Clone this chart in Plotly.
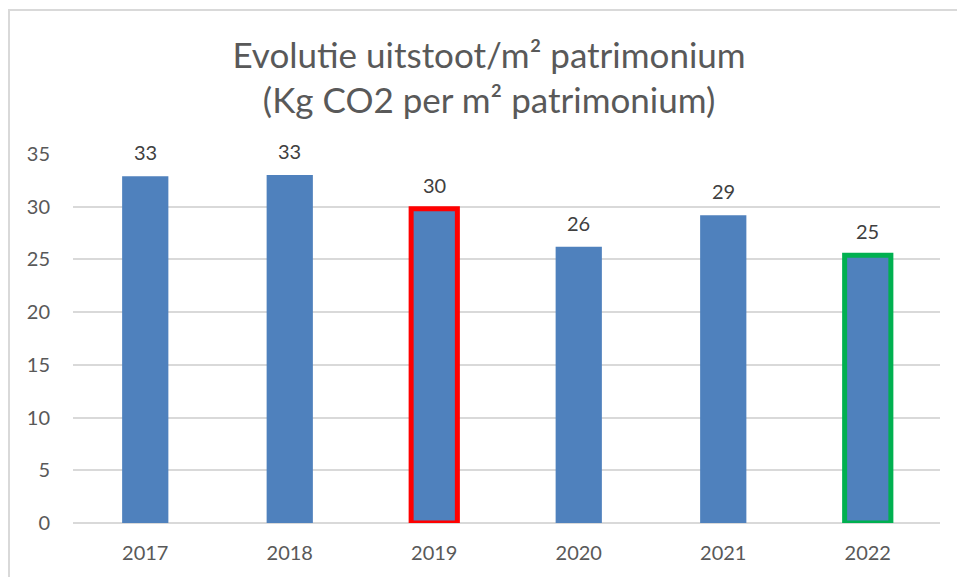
import plotly.graph_objs as go

# Data
years = ["2017", "2018", "2019", "2020", "2021", "2022"]
co2_per_m2 = [32.9, 33.0, 29.8, 26.2, 29.2, 25.4]
y_ticks = [0, 5, 10, 15, 20, 25, 30, 35]

# Outline colours for the highlighted years
highlight = {"2019": "#FF0000", "2022": "#00B050"}

FONT = "Lato"
GRID = "#D9D9D9"

fig = go.Figure()

fig.add_trace(go.Bar(
    x=years,
    y=co2_per_m2,
    marker=dict(
        color="#4F81BD",
        line=dict(
            color=[highlight.get(y, "rgba(0,0,0,0)") for y in years],
            width=[5 if y in highlight else 0 for y in years],
        ),
    ),
    showlegend=False,
    hoverinfo="x+y",
))

# Data labels above the bars (rounded like the original).
# numeric-looking strings are read as category indexes by annotations,
# so place them by index instead
for i, val in enumerate(co2_per_m2):
    fig.add_annotation(
        x=i, y=val, text=f"{val:.0f}",
        showarrow=False, yanchor="middle", yshift=24,
        font=dict(family=FONT, size=20, color="#404040"),
    )

# Light grey chart border
fig.add_shape(
    type="rect", xref="paper", yref="paper",
    x0=-0.0738, x1=1.2, y0=-0.3, y1=1.39,
    line=dict(color=GRID, width=2), layer="below",
)

fig.update_layout(
    width=957,
    height=577,
    title=dict(
        text="Evolutie uitstoot/m² patrimonium<br>(Kg CO2 per m² patrimonium)",
        x=0.511, xanchor="center",
        y=0.883, yanchor="middle",
        font=dict(family=FONT, size=35, color="#595959"),
    ),
    template="plotly_white",
    plot_bgcolor="white",
    paper_bgcolor="white",
    margin=dict(l=73, r=17, t=154, b=54),
    bargap=0.68,
    xaxis=dict(
        type="category",
        showgrid=False,
        showline=False,
        ticks="",
        ticklabelstandoff=16,
        tickfont=dict(family=FONT, size=20, color="#595959"),
    ),
    yaxis=dict(
        range=[0, 35],
        tickvals=y_ticks,
        showgrid=True,
        gridcolor=GRID,
        gridwidth=1.5,
        zeroline=True,
        zerolinecolor=GRID,
        zerolinewidth=1.5,
        showline=False,
        ticks="",
        ticklabelstandoff=22,
        tickfont=dict(family=FONT, size=20, color="#595959"),
    ),
)

# drop the default 8px body margin so the figure sits at the page corner
fig.write_html(
    "out.html",
    config={"displayModeBar": False},
    post_script="document.body.style.margin='0';",
)
